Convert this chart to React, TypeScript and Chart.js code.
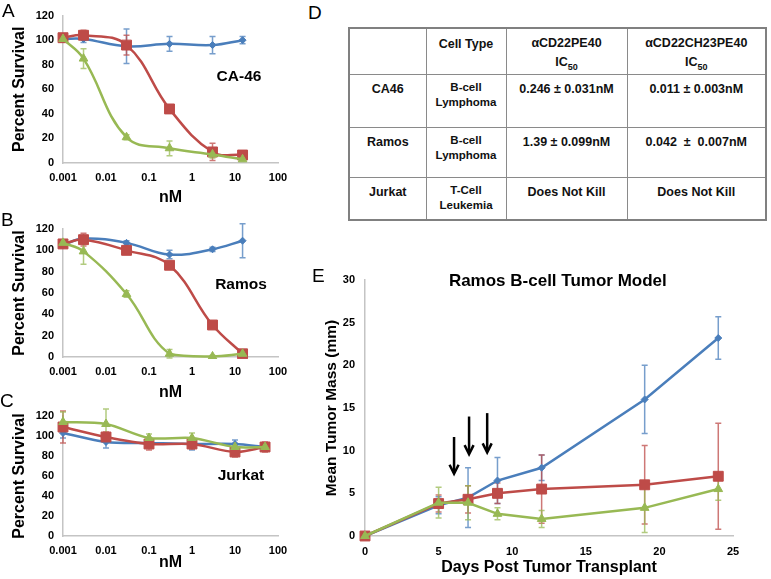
import React, { useEffect, useRef } from 'react';
import { Chart, registerables } from 'chart.js';

Chart.register(...registerables);

const FONT = '"Liberation Sans", Arial, Helvetica, sans-serif';
const BLUE = '#4A7EBB';
const RED = '#BE4B48';
const GREEN = '#98B954';
const BLUE_ERR = 'rgba(74,126,187,0.75)';
const RED_ERR = 'rgba(190,75,72,0.75)';
const GREEN_ERR = 'rgba(152,185,84,0.75)';
const AXIS = '#C4C4C4';

// ---- dose-response panels (nM) ----
const dosesAB = [0.001, 0.003, 0.03, 0.3, 3, 15];
const dosesC = [0.001, 0.01, 0.1, 1, 10, 50];
const doseTicks = [0.001, 0.01, 0.1, 1, 10, 100];
const doseTickLabels = ['0.001', '0.01', '0.1', '1', '10', '100'];

// Panel A: CA-46
const blueA = [101, 101, 95, 97, 96, 100];
const blueAErr = [2, 3, 14, 6, 7, 3];
const redA = [102, 104, 96, 44, 9, 6.5];
const redAErr = [1, 4, 8, 2, 7, 2];
const greenA = [101, 85, 21, 12, 7, 3];
const greenAErr = [1, 8, 2, 6, 3, 1];

// Panel B: Ramos
const blueB = [105, 111, 107, 96, 101, 109];
const blueBErr = [2, 3, 2, 4, 2, 16];
const redB = [106, 110, 100, 86, 30, 3];
const redBErr = [2, 6, 3, 2, 2, 2];
const greenB = [107, 99, 59, 3, 0.5, 3];
const greenBErr = [2, 12, 3, 4, 1, 1];

// Panel C: Jurkat
const blueC = [103, 94, 93, 92, 92, 89];
const blueCErr = [5, 6, 3, 6, 4, 3];
const redC = [109, 99, 92, 92, 84, 89];
const redCErr = [16, 5, 6, 5, 5, 5];
const greenC = [114, 112, 98, 98, 89, 89];
const greenCErr = [10, 15, 4, 5, 3, 4];

// ---- Panel E: Ramos B-cell tumor model ----
const days = [0, 5, 7, 9, 12, 19, 24];
const blueE = [0, 3.6, 4.5, 6.5, 8, 16, 23.2];
const blueEErr = [0, 1, 3.5, 2.7, 1.5, 4, 2.5];
const redE = [0, 3.8, 4.3, 5, 5.5, 6, 7];
const redEErr = [0, 1, 1.6, 1.2, 4, 4.6, 6.2];
const greenE = [0, 3.9, 3.9, 2.6, 2, 3.3, 5.5];
const greenEErr = [0, 1.8, 2, 0.7, 1, 2.9, 1.3];
const arrowDays = [6.05, 7.07, 8.3];
const arrowTop = [11.6, 14, 14.4];
const arrowBottom = [7.3, 9.6, 9.8];

// ---- Panel D table ----
const tableHeader = ['', 'Cell Type', 'αCD22PE40', 'αCD22CH23PE40'];
const cellLines = ['CA46', 'Ramos', 'Jurkat'];
const cellTypes = [['B-cell', 'Lymphoma'], ['B-cell', 'Lymphoma'], ['T-Cell', 'Leukemia']];
const ic50PE40 = ['0.246 ± 0.031nM', '1.39 ± 0.099nM', 'Does Not Kill'];
const ic50CH23 = ['0.011 ± 0.003nM', '0.042  ±  0.007nM', 'Does Not Kill'];

const errorBarPlugin = {
  id: 'errorBars',
  beforeDatasetsDraw(chart: any) {
    const ctx = chart.ctx;
    const xs = chart.scales.x;
    const ys = chart.scales.y;
    chart.data.datasets.forEach((ds: any) => {
      const errs = ds.errorBars;
      if (!errs) return;
      ctx.save();
      ctx.strokeStyle = ds.errorColor;
      ctx.lineWidth = 1.5;
      ds.data.forEach((p: any, j: number) => {
        const e = errs[j];
        if (!e) return;
        const x = xs.getPixelForValue(p.x);
        const y1 = ys.getPixelForValue(p.y - e);
        const y2 = ys.getPixelForValue(p.y + e);
        ctx.beginPath();
        ctx.moveTo(x, y1);
        ctx.lineTo(x, y2);
        ctx.moveTo(x - 3, y1);
        ctx.lineTo(x + 3, y1);
        ctx.moveTo(x - 3, y2);
        ctx.lineTo(x + 3, y2);
        ctx.stroke();
      });
      ctx.restore();
    });
  },
};

function makeNotesPlugin(items: { text: string; x: number; y: number; size: number }[]) {
  return {
    id: 'notes',
    afterDraw(chart: any) {
      const ctx = chart.ctx;
      const xs = chart.scales.x;
      const ys = chart.scales.y;
      ctx.save();
      ctx.fillStyle = '#000';
      ctx.textAlign = 'center';
      ctx.textBaseline = 'middle';
      items.forEach((it) => {
        ctx.font = `bold ${it.size}px ${FONT}`;
        ctx.fillText(it.text, xs.getPixelForValue(it.x), ys.getPixelForValue(it.y));
      });
      ctx.restore();
    },
  };
}

const arrowPlugin = {
  id: 'arrows',
  afterDraw(chart: any) {
    const ctx = chart.ctx;
    const xs = chart.scales.x;
    const ys = chart.scales.y;
    ctx.save();
    ctx.strokeStyle = '#000';
    ctx.lineWidth = 2.5;
    ctx.lineCap = 'butt';
    arrowDays.forEach((d, i) => {
      const x = xs.getPixelForValue(d);
      const yt = ys.getPixelForValue(arrowTop[i]);
      const yb = ys.getPixelForValue(arrowBottom[i]);
      ctx.beginPath();
      ctx.moveTo(x, yt);
      ctx.lineTo(x, yb - 1);
      ctx.stroke();
      ctx.beginPath();
      ctx.moveTo(x - 4.5, yb - 9);
      ctx.lineTo(x, yb);
      ctx.lineTo(x + 4.5, yb - 9);
      ctx.stroke();
    });
    ctx.restore();
  },
};

function series(
  xs: number[], ys: number[], errs: number[], color: string, errColor: string,
  style: string, radius: number, tension: number, order: number, clip: any
) {
  return {
    data: xs.map((x, i) => ({ x, y: ys[i] })),
    errorBars: errs,
    errorColor: errColor,
    borderColor: color,
    backgroundColor: color,
    borderWidth: 2.5,
    pointStyle: style,
    pointRadius: radius,
    pointBorderWidth: 1,
    pointBackgroundColor: color,
    pointBorderColor: color,
    tension,
    fill: false,
    order,
    clip,
  };
}

const tickFont = { family: FONT, size: 11, weight: 'bold' as const };
const titleFont = { family: FONT, size: 16, weight: 'bold' as const };

function doseConfig(
  doses: number[],
  data: number[][],
  errs: number[][],
  tension: number,
  padTop: number,
  xHeight: number,
  nmPad: number,
  note: { text: string; x: number; y: number; size: number }
) {
  const clip = { left: 12, right: 12, top: 12, bottom: 2 };
  return {
    type: 'line',
    data: {
      datasets: [
        series(doses, data[0], errs[0], BLUE, BLUE_ERR, 'rectRot', 3.5, tension, 3, clip),
        series(doses, data[1], errs[1], RED, RED_ERR, 'rect', 7, tension, 2, clip),
        series(doses, data[2], errs[2], GREEN, GREEN_ERR, 'triangle', 5, tension, 1, clip),
      ],
    },
    options: {
      responsive: false,
      animation: false,
      events: [],
      layout: { padding: { left: 0, right: 22, top: padTop, bottom: 0 } },
      plugins: { legend: { display: false }, tooltip: { enabled: false }, title: { display: false } },
      scales: {
        x: {
          type: 'logarithmic',
          min: 0.001,
          max: 100,
          afterBuildTicks: (s: any) => {
            s.ticks = doseTicks.map((v) => ({ value: v }));
          },
          afterFit: (s: any) => {
            s.height = xHeight;
          },
          ticks: {
            callback: (_v: any, i: number) => doseTickLabels[i],
            font: tickFont,
            color: '#000',
            padding: 8,
            maxRotation: 0,
            autoSkip: false,
          },
          grid: { display: false, drawTicks: false },
          border: { display: true, color: AXIS, width: 1.5 },
          title: { display: true, text: 'nM', font: titleFont, color: '#000', padding: { top: 0, bottom: nmPad } },
        },
        y: {
          min: 0,
          max: 120,
          afterFit: (s: any) => {
            s.width = 63;
          },
          ticks: { stepSize: 20, font: tickFont, color: '#000', padding: 9 },
          grid: { display: false, drawTicks: false },
          border: { display: true, color: AXIS, width: 1.5 },
          title: {
            display: true,
            text: 'Percent Survival',
            font: titleFont,
            color: '#000',
            padding: { top: 10.4, bottom: 0 },
          },
        },
      },
    },
    plugins: [errorBarPlugin, makeNotesPlugin([note])],
  };
}

const configA = doseConfig(
  dosesAB, [blueA, redA, greenA], [blueAErr, redAErr, greenAErr], 0.4, 15, 47, 2.4,
  { text: 'CA-46', x: 12.4, y: 70.5, size: 15.5 }
);
const configB = doseConfig(
  dosesAB, [blueB, redB, greenB], [blueBErr, redBErr, greenBErr], 0.4, 24, 48, 2.4,
  { text: 'Ramos', x: 13.8, y: 67.5, size: 15.5 }
);
const configC = doseConfig(
  dosesC, [blueC, redC, greenC], [blueCErr, redCErr, greenCErr], 0.3, 16, 43, 6.4,
  { text: 'Jurkat', x: 13.8, y: 60.3, size: 15.5 }
);

const configE = {
  type: 'line',
  data: {
    datasets: [
      series(days, blueE, blueEErr, BLUE, BLUE_ERR, 'rectRot', 3.5, 0, 3, false),
      series(days, redE, redEErr, RED, RED_ERR, 'rect', 7, 0, 2, false),
      series(days, greenE, greenEErr, GREEN, GREEN_ERR, 'triangle', 5, 0, 1, false),
    ],
  },
  options: {
    responsive: false,
    animation: false,
    events: [],
    layout: { padding: { left: 0, right: 38, top: 30, bottom: 0 } },
    plugins: { legend: { display: false }, tooltip: { enabled: false }, title: { display: false } },
    scales: {
      x: {
        type: 'linear',
        min: 0,
        max: 25,
        afterFit: (s: any) => {
          s.height = 43;
        },
        ticks: { stepSize: 5, font: tickFont, color: '#000', padding: 9, maxRotation: 0 },
        grid: { display: false, drawTicks: false },
        border: { display: true, color: AXIS, width: 1.5 },
        title: {
          display: true,
          text: 'Days Post Tumor Transplant',
          font: titleFont,
          color: '#000',
          padding: { top: 0, bottom: 1.4 },
        },
      },
      y: {
        min: 0,
        max: 30,
        afterFit: (s: any) => {
          s.width = 65;
        },
        ticks: { stepSize: 5, font: tickFont, color: '#000', padding: 10 },
        grid: { display: false, drawTicks: false },
        border: { display: true, color: AXIS, width: 1.5 },
        title: {
          display: true,
          text: 'Mean Tumor Mass (mm)',
          font: { family: FONT, size: 15.5, weight: 'bold' as const },
          color: '#000',
          padding: { top: 22.7, bottom: 0 },
        },
      },
    },
  },
  plugins: [errorBarPlugin, arrowPlugin, makeNotesPlugin([{ text: 'Ramos B-cell Tumor Model', x: 13.1, y: 29.8, size: 17 }])],
};

function ChartBox({ left, top, width, height, config }: any) {
  const ref = useRef<HTMLCanvasElement | null>(null);
  useEffect(() => {
    const chart = new Chart(ref.current as HTMLCanvasElement, config);
    return () => chart.destroy();
  }, []);
  return (
    <canvas
      ref={ref}
      width={width}
      height={height}
      style={{ position: 'absolute', left, top, width, height }}
    />
  );
}

const letterStyle = (left: number, top: number): React.CSSProperties => ({
  position: 'absolute',
  left,
  top,
  fontFamily: FONT,
  fontSize: 19,
  lineHeight: '19px',
  color: '#000',
});

const cellBorder = '1.5px solid #8a8a8a';
const tdBase: React.CSSProperties = {
  border: cellBorder,
  verticalAlign: 'top',
  textAlign: 'center',
  padding: '5px 2px 0 2px',
  fontFamily: FONT,
  fontWeight: 'bold',
  fontSize: 12.5,
  lineHeight: '16px',
  color: '#111',
  whiteSpace: 'pre',
};

function TableD() {
  const rowHeights = [46, 53, 50, 43];
  return (
    <table
      style={{
        position: 'absolute',
        left: 348,
        top: 27,
        width: 417,
        height: 192,
        borderCollapse: 'collapse',
        tableLayout: 'fixed',
        border: '2px solid #808080',
      }}
    >
      <colgroup>
        <col style={{ width: 77 }} />
        <col style={{ width: 80 }} />
        <col style={{ width: 121 }} />
        <col style={{ width: 139 }} />
      </colgroup>
      <tbody>
        <tr style={{ height: rowHeights[0] }}>
          <td style={tdBase}>{tableHeader[0]}</td>
          <td style={{ ...tdBase, paddingTop: 7 }}>{tableHeader[1]}</td>
          <td style={{ ...tdBase, lineHeight: '19px' }}>
            {tableHeader[2]}
            <br />
            IC<sub style={{ fontSize: 9, lineHeight: 0 }}>50</sub>
          </td>
          <td style={{ ...tdBase, lineHeight: '19px' }}>
            {tableHeader[3]}
            <br />
            IC<sub style={{ fontSize: 9, lineHeight: 0 }}>50</sub>
          </td>
        </tr>
        {cellLines.map((name, i) => (
          <tr key={name} style={{ height: rowHeights[i + 1] }}>
            <td style={{ ...tdBase, paddingTop: 6 }}>{name}</td>
            <td style={{ ...tdBase, fontSize: 11.5, lineHeight: '15px', paddingTop: 5 }}>
              {cellTypes[i][0]}
              <br />
              {cellTypes[i][1]}
            </td>
            <td style={{ ...tdBase, paddingTop: 6 }}>{ic50PE40[i]}</td>
            <td style={{ ...tdBase, paddingTop: 6 }}>{ic50CH23[i]}</td>
          </tr>
        ))}
      </tbody>
    </table>
  );
}

export default function App() {
  return (
    <div
      style={{
        position: 'fixed',
        left: 0,
        top: 0,
        width: 771,
        height: 579,
        background: '#fff',
        overflow: 'hidden',
      }}
    >
      <ChartBox left={0} top={0} width={300} height={210} config={configA} />
      <ChartBox left={0} top={205} width={300} height={200} config={configB} />
      <ChartBox left={0} top={400} width={300} height={179} config={configC} />
      <ChartBox left={300} top={250} width={471} height={329} config={configE} />
      <TableD />
      <div style={letterStyle(2, 0.5)}>A</div>
      <div style={letterStyle(1, 209.5)}>B</div>
      <div style={letterStyle(0, 390.5)}>C</div>
      <div style={letterStyle(308, 2.5)}>D</div>
      <div style={letterStyle(312, 265.5)}>E</div>
    </div>
  );
}
